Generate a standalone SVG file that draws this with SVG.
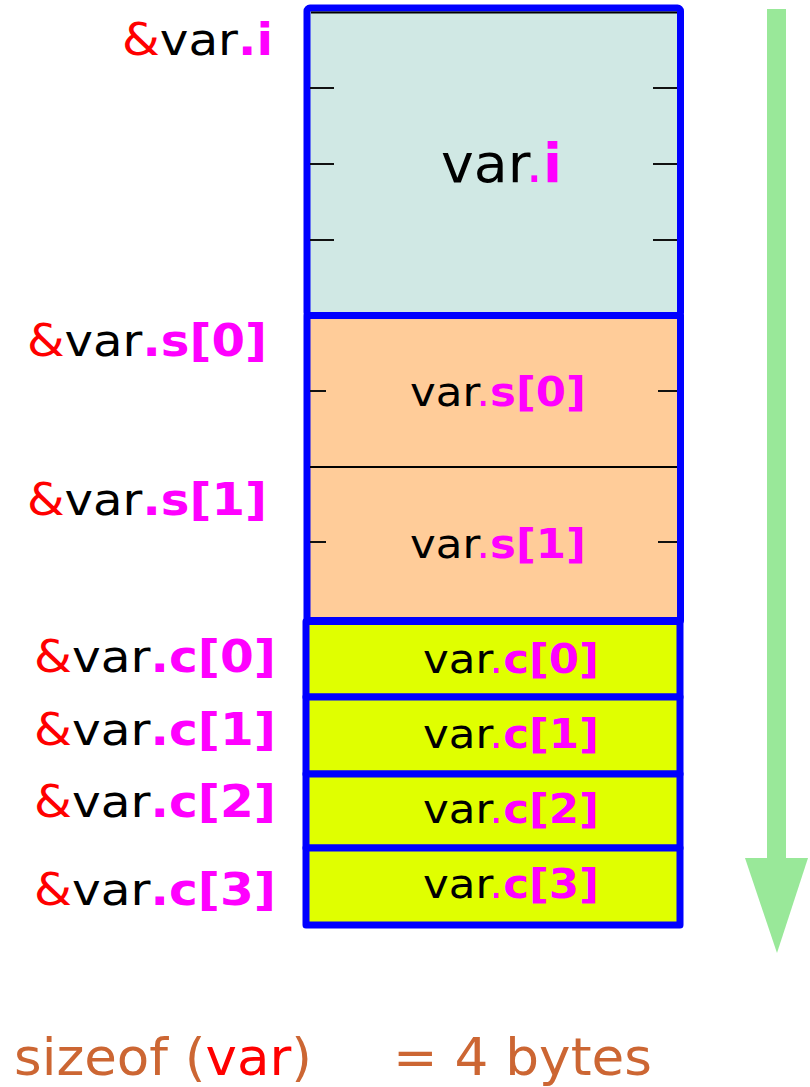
<svg xmlns="http://www.w3.org/2000/svg" width="810" height="1087" viewBox="0 0 810 1087">
  <style>
    text { font-family: "DejaVu Sans", "Liberation Sans", sans-serif; }
    .lbl { font-size: 44px; fill: #000000; }
    .amp { fill: #ff0000; }
    .mag { fill: #ff00ff; font-weight: bold; }
    .dot { fill: #ff00ff; }
    .box { stroke: #0000ff; stroke-width: 7; stroke-linejoin: round; }
    .tick { stroke: #111111; stroke-width: 2; }
    .thin { stroke: #000000; stroke-width: 2; }
    .bt { font-size: 41px; fill: #000000; }
    .sz { font-size: 52px; fill: #cc6633; }
  </style>

  <g id="connectors">
    <g id="direction-arrow">
      <rect x="767" y="9" width="19" height="850" fill="#99e899"/>
      <polygon points="745,858 808,858 777,953" fill="#99e899"/>
    </g>
  </g>

  <g id="node-var-i">
    <rect class="box" x="307" y="8" width="373.5" height="307.5" rx="3" fill="#d0e8e4"/>
    <line class="thin" x1="311" y1="12.5" x2="677" y2="12.5" stroke-width="1.5"/>
    <line class="tick" x1="310" y1="88" x2="334" y2="88"/>
    <line class="tick" x1="310" y1="164" x2="334" y2="164"/>
    <line class="tick" x1="310" y1="240" x2="334" y2="240"/>
    <line class="tick" x1="653" y1="88" x2="677" y2="88"/>
    <line class="tick" x1="653" y1="164" x2="677" y2="164"/>
    <line class="tick" x1="653" y1="240" x2="677" y2="240"/>
    <text x="441" y="182" font-size="54" textLength="121" lengthAdjust="spacingAndGlyphs">var<tspan class="dot">.</tspan><tspan class="mag">i</tspan></text>
  </g>

  <g id="node-var-s">
    <rect class="box" x="307" y="315.5" width="373.5" height="305" fill="#ffcc99"/>
    <line class="thin" x1="310" y1="467" x2="677" y2="467"/>
    <g id="node-var-s0">
      <line class="tick" x1="310" y1="391" x2="326" y2="391"/>
      <line class="tick" x1="658" y1="391" x2="677" y2="391"/>
      <text class="bt" x="410" y="406" textLength="176" lengthAdjust="spacingAndGlyphs">var<tspan class="dot">.</tspan><tspan class="mag">s[0]</tspan></text>
    </g>
    <g id="node-var-s1">
      <line class="tick" x1="310" y1="542" x2="326" y2="542"/>
      <line class="tick" x1="658" y1="542" x2="677" y2="542"/>
      <text class="bt" x="410" y="558" textLength="176" lengthAdjust="spacingAndGlyphs">var<tspan class="dot">.</tspan><tspan class="mag">s[1]</tspan></text>
    </g>
  </g>

  <g id="node-var-c0">
    <rect class="box" x="306" y="621.5" width="374" height="75.5" fill="#e0ff00"/>
    <text class="bt" x="423" y="673" font-size="42" textLength="176" lengthAdjust="spacingAndGlyphs">var<tspan class="dot">.</tspan><tspan class="mag">c[0]</tspan></text>
  </g>
  <g id="node-var-c1">
    <rect class="box" x="306" y="697" width="374" height="77" fill="#e0ff00"/>
    <text class="bt" x="423" y="748" font-size="42" textLength="176" lengthAdjust="spacingAndGlyphs">var<tspan class="dot">.</tspan><tspan class="mag">c[1]</tspan></text>
  </g>
  <g id="node-var-c2">
    <rect class="box" x="306" y="774" width="374" height="74" fill="#e0ff00"/>
    <text class="bt" x="423" y="823" font-size="42" textLength="176" lengthAdjust="spacingAndGlyphs">var<tspan class="dot">.</tspan><tspan class="mag">c[2]</tspan></text>
  </g>
  <g id="node-var-c3">
    <rect class="box" x="306" y="848" width="374" height="77" fill="#e0ff00"/>
    <text class="bt" x="423" y="898" font-size="42" textLength="176" lengthAdjust="spacingAndGlyphs">var<tspan class="dot">.</tspan><tspan class="mag">c[3]</tspan></text>
  </g>

  <g id="address-labels">
    <text class="lbl" x="122" y="55" textLength="151" lengthAdjust="spacingAndGlyphs"><tspan class="amp">&amp;</tspan>var<tspan class="mag">.i</tspan></text>
    <text class="lbl" x="27" y="356" textLength="240" lengthAdjust="spacingAndGlyphs"><tspan class="amp">&amp;</tspan>var<tspan class="mag">.s[0]</tspan></text>
    <text class="lbl" x="27" y="515" textLength="240" lengthAdjust="spacingAndGlyphs"><tspan class="amp">&amp;</tspan>var<tspan class="mag">.s[1]</tspan></text>
    <text class="lbl" x="34" y="672" textLength="242" lengthAdjust="spacingAndGlyphs"><tspan class="amp">&amp;</tspan>var<tspan class="mag">.c[0]</tspan></text>
    <text class="lbl" x="34" y="745" textLength="242" lengthAdjust="spacingAndGlyphs"><tspan class="amp">&amp;</tspan>var<tspan class="mag">.c[1]</tspan></text>
    <text class="lbl" x="34" y="817" textLength="242" lengthAdjust="spacingAndGlyphs"><tspan class="amp">&amp;</tspan>var<tspan class="mag">.c[2]</tspan></text>
    <text class="lbl" x="34" y="905" textLength="242" lengthAdjust="spacingAndGlyphs"><tspan class="amp">&amp;</tspan>var<tspan class="mag">.c[3]</tspan></text>
  </g>

  <g id="sizeof-caption">
    <text class="sz" x="14" y="1075" textLength="298" lengthAdjust="spacingAndGlyphs">sizeof (<tspan fill="#ff0000">var</tspan>)</text>
    <text class="sz" x="393" y="1075" textLength="259" lengthAdjust="spacingAndGlyphs">= 4 bytes</text>
  </g>
</svg>
